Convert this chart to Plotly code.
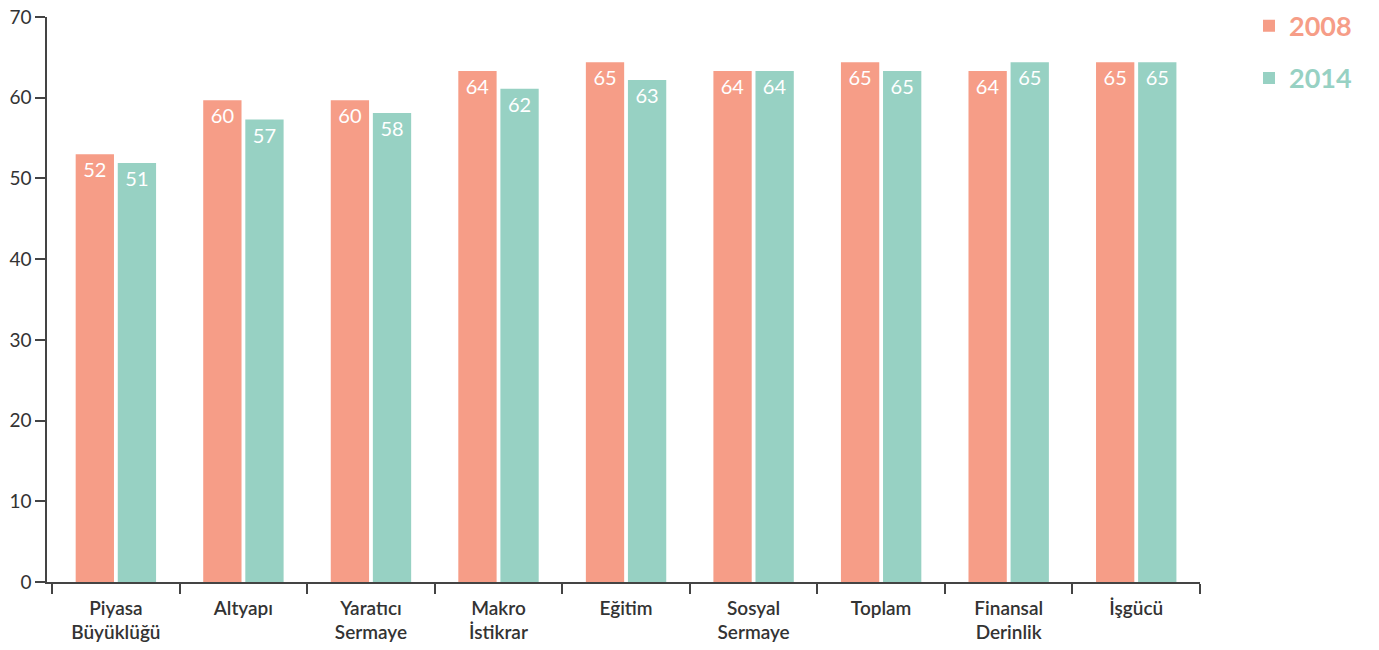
import plotly.graph_objects as go

categories = ['Piyasa<br>Büyüklüğü', 'Altyapı', 'Yaratıcı<br>Sermaye', 'Makro<br>İstikrar', 'Eğitim',
              'Sosyal<br>Sermaye', 'Toplam', 'Finansal<br>Derinlik', 'İşgücü']
y2008 = [53.0, 59.7, 59.7, 63.3, 64.4, 63.3, 64.4, 63.3, 64.4]
y2014 = [51.9, 57.3, 58.1, 61.1, 62.2, 63.3, 63.3, 64.4, 64.4]
labels2008 = [52, 60, 60, 64, 65, 64, 65, 64, 65]
labels2014 = [51, 57, 58, 62, 63, 64, 65, 65, 65]
y_ticks = [0, 10, 20, 30, 40, 50, 60, 70]

c2008 = '#F69D87'
c2014 = '#97D1C3'
font = 'Lato, Open Sans, sans-serif'

fig = go.Figure(data=[
    go.Bar(name="<b><span style='color:%s'>2008</span></b>" % c2008, x=categories, y=y2008, text=labels2008,
           textposition='inside', insidetextanchor='end', textangle=0,
           textfont=dict(color='white', size=20, family=font),
           marker=dict(color=c2008, line=dict(width=0)), legendgroup='a'),
    go.Bar(name="<b><span style='color:%s'>2014</span></b>" % c2014, x=categories, y=y2014, text=labels2014,
           textposition='inside', insidetextanchor='end', textangle=0,
           textfont=dict(color='white', size=20, family=font),
           marker=dict(color=c2014, line=dict(width=0)), legendgroup='b'),
])

fig.update_layout(
    barmode='group', bargap=0.34, bargroupgap=0.09,
    width=1379, height=650,
    margin=dict(l=47, r=179, t=17, b=68, autoexpand=False),
    plot_bgcolor='white', paper_bgcolor='white',
    font=dict(family=font, color='#333333'),
    legend=dict(x=1.0425, y=1.027, xanchor='left', yanchor='top', font=dict(size=27, family=font),
                tracegroupgap=14, itemwidth=30, bgcolor='rgba(0,0,0,0)'),
)
fig.update_yaxes(range=[0, 70], tickvals=y_ticks, showgrid=False, zeroline=False, automargin=False,
                 showline=True, linecolor='#444444', linewidth=1.5,
                 ticks='outside', ticklen=10, tickcolor='#444444', tickwidth=1.5,
                 tickfont=dict(size=19, color='#333333'))
fig.update_xaxes(range=[-0.54, 8.5], showgrid=False, showline=True, linecolor='#444444', linewidth=1.5,
                 automargin=False, ticks='outside', ticklen=10, tickcolor='#444444', tickwidth=1.5,
                 tickson='boundaries', ticklabelstandoff=8,
                 tickfont=dict(size=19, color='#333333', weight=600))

# drop the default 8px body margin so the figure sits at the page corner
fig.write_html("out.html", config={'displayModeBar': False},
               post_script="document.body.style.margin='0';")
